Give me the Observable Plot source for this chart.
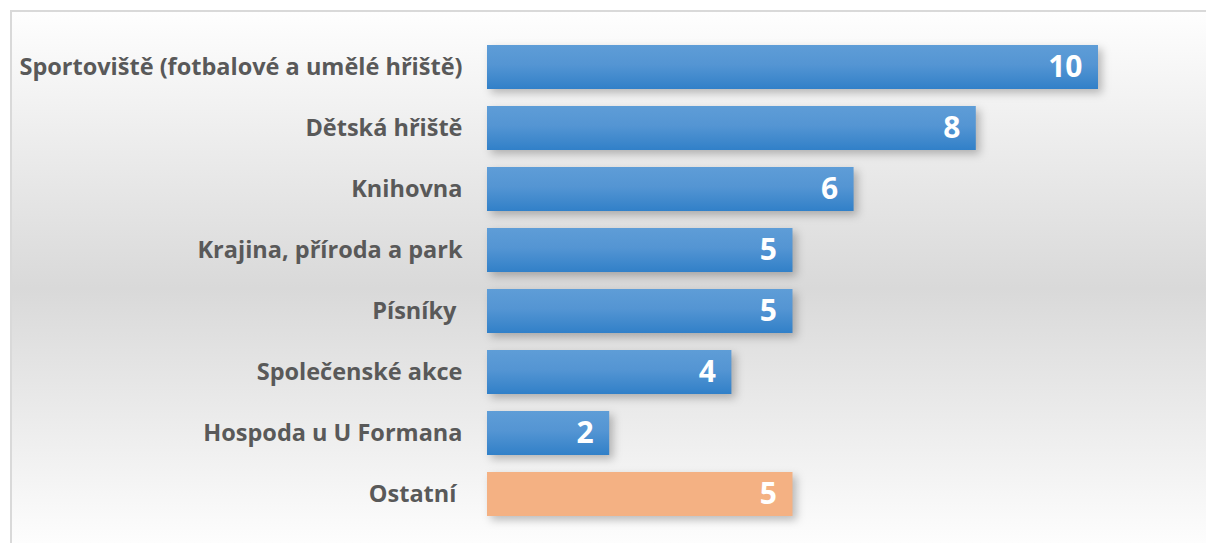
<!DOCTYPE html>
<html>
<head>
<meta charset="utf-8">
<script src="https://cdn.jsdelivr.net/npm/d3@7"></script>
<script src="https://cdn.jsdelivr.net/npm/@observablehq/plot@0.6"></script>
<style>
  body { margin: 0; background: #fff; }
  #wrap { position: relative; width: 1206px; height: 543px; overflow: hidden; background: #fff; }
  #panel { position: absolute; left: 10px; top: 10px; right: 0; bottom: 0;
    border-left: 2px solid #d9d9d9; border-top: 2px solid #d9d9d9;
    background: linear-gradient(to bottom, #fefefe 0%, #d9d9d9 52%, #fdfdfd 100%); }
  #chart { position: absolute; left: 0; top: 0; }
  svg text { white-space: pre; }
</style>
</head>
<body>
<div id="wrap"><div id="panel"></div><div id="chart"></div></div>
<script>
const categories = [
  "Sportoviště (fotbalové a umělé hřiště)",
  "Dětská hřiště",
  "Knihovna",
  "Krajina, příroda a park",
  "Písníky ",
  "Společenské akce",
  "Hospoda u U Formana",
  "Ostatní "
];
const values = [10, 8, 6, 5, 5, 4, 2, 5];
const otherCategory = "Ostatní ";

const data = categories.map((c, i) => ({cat: c, value: values[i], other: c === otherCategory}));

const defs = () => {
  const d = d3.create("svg:defs");
  const g = d.append("linearGradient").attr("id", "blueGrad")
    .attr("x1", 0).attr("y1", 0).attr("x2", 0).attr("y2", 1);
  g.append("stop").attr("offset", "0%").attr("stop-color", "#5e9dd7");
  g.append("stop").attr("offset", "45%").attr("stop-color", "#5495d3");
  g.append("stop").attr("offset", "100%").attr("stop-color", "#3180c8");
  return d.node();
};

const chart = Plot.plot({
  width: 1206,
  height: 543,
  marginLeft: 487,
  marginRight: 108,
  marginTop: 26.85,
  marginBottom: 9.05,
  style: {background: "transparent", fontFamily: "'Open Sans', sans-serif"},
  x: {domain: [0, 10], axis: null},
  y: {domain: categories, padding: 0.28, axis: null},
  marks: [
    defs,
    Plot.barX(data.filter(d => !d.other), {x: "value", y: "cat", fill: "url(#blueGrad)"}),
    Plot.barX(data.filter(d => d.other), {x: "value", y: "cat", fill: "#f4b183"}),
    Plot.axisY({tickSize: 0, tickPadding: 25, fontSize: 23.5, fontWeight: "bold", color: "#595959", label: null}),
    Plot.text(data, {x: "value", y: "cat", text: d => String(d.value), dx: -16, textAnchor: "end",
      fill: "white", fontSize: 30, fontWeight: "bold"})
  ]
});
chart.querySelectorAll('g[aria-label="bar"] rect').forEach(r => {
  r.style.filter = "drop-shadow(4px 4px 4px rgba(0,0,0,0.25))";
});
document.getElementById("chart").appendChild(chart);
</script>
</body>
</html>
